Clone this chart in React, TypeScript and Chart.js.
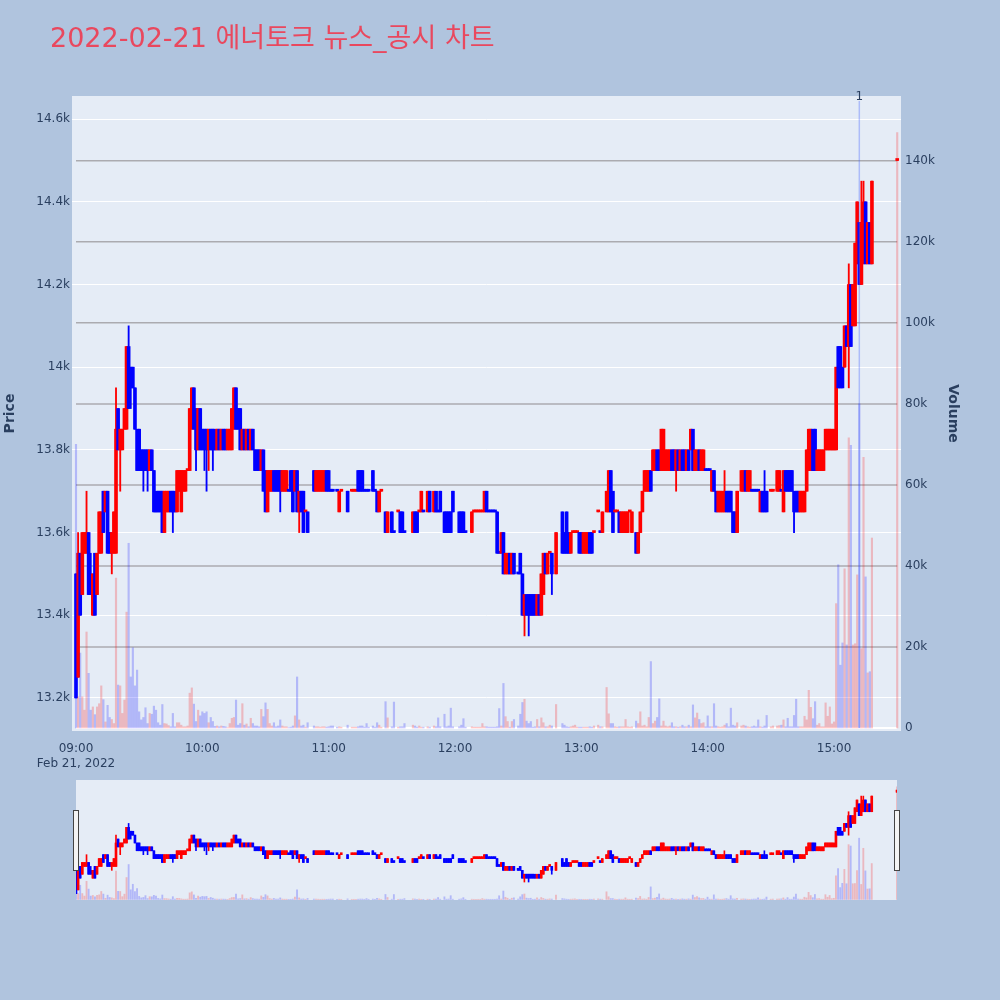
import React, { useEffect, useRef } from "react";
import { Chart, registerables } from "chart.js";

Chart.register(...registerables);

const TITLE = "2022-02-21 에너토크 뉴스_공시 차트";
const DATE_LABEL = "Feb 21, 2022";
const HOUR_LABELS = ["09:00", "10:00", "11:00", "12:00", "13:00", "14:00", "15:00"];
const HOUR_MINUTES = [0, 60, 120, 180, 240, 300, 360];
const PRICE_TICKS = [13200, 13400, 13600, 13800, 14000, 14200, 14400, 14600];
const VOLUME_TICKS = [0, 20000, 40000, 60000, 80000, 100000, 120000, 140000];
const NEWS_MINUTE = 372;
const NEWS_LABEL = "1";
const AUCTION_MINUTE = 390;
const AUCTION_PRICE = 14500;
const AUCTION_VOLUME = 147000;

// one entry per minute from 09:00 (index = minutes after 09:00); null = no trade
const OPEN = [
  13500,13250,13550,13450,13550,13550,13600,13500,13400,13550,
  13450,13550,13550,13700,13650,13700,13600,13550,13550,13550,
  13900,13800,13800,13850,13850,14050,14000,14000,13950,13850,
  13850,13800,13800,13800,13800,13750,13800,13750,13700,13700,
  13700,13700,13600,13650,13650,13700,13700,13700,13650,13700,
  13650,13700,13700,13750,13750,13850,13950,13900,13800,13900,
  13850,13850,13850,13800,13850,13850,13850,13800,13850,13800,
  13850,13850,13800,13800,13800,13850,13950,13900,13900,13800,
  13850,13800,13850,13800,13850,13800,13800,13800,13750,13800,
  13750,13650,13700,13700,13750,13750,13750,13750,13700,13700,
  13700,13700,13750,13750,13700,13750,13650,13700,13700,13650,
  13650,null,null,13750,13700,13700,13700,13700,13700,13750,
  13750,13700,13700,null,13700,13650,13700,null,null,13700,
  null,13700,13700,13700,13750,13750,13750,13700,13700,13700,
  null,13750,13700,13700,13650,13700,null,13650,13600,null,
  13650,13600,null,13650,13650,13650,13600,null,null,null,
  13600,13650,13650,13650,13650,13650,null,13650,13700,null,
  13650,13700,13650,13700,null,13650,13650,13650,13650,13700,
  null,null,13650,13650,13650,13600,null,null,13600,13650,
  13650,13650,13650,13650,13650,13700,13650,13650,13650,13650,
  13650,13550,13550,13600,13500,13500,13550,13500,13550,null,
  13500,13550,13500,13400,13450,13450,13450,13450,13450,13400,
  13450,13400,13450,13550,13500,13550,13550,null,13500,null,
  null,13650,13600,13650,13600,13550,13600,13600,13600,13600,
  13600,13550,13550,13550,13600,13600,13600,null,13650,13600,
  13600,null,13650,13650,13750,13700,13650,13650,13650,13600,
  13600,13600,13600,13650,13600,null,13600,13550,13600,13650,
  13700,13700,13700,13750,13750,13750,13800,13800,13750,13750,
  13750,13750,13750,13800,13800,13750,13800,13750,13800,13800,
  13750,13800,13800,13850,13750,13750,13800,13750,13750,13750,
  13750,13750,13700,13750,13700,13650,13650,13650,13650,13700,
  13700,13700,13650,13650,13600,null,13700,13700,13750,13700,
  13700,13700,13700,13700,13700,13650,13700,13700,13700,null,
  13700,13700,null,13700,13700,13700,13650,13750,13750,13750,
  13750,13700,13700,13700,13650,13650,13650,13700,13750,13750,
  13850,13850,13750,13750,13750,13750,13800,13800,13800,13800,
  13800,13800,14050,14050,14000,14000,14100,14050,14200,14100,
  14100,14250,14350,14200,14250,14400,14250,14350,14250,
];
const HIGH = [
  13500,13600,13550,13600,13600,13700,13600,13550,13500,13550,
  13550,13650,13650,13700,13700,13700,13600,13600,13650,13950,
  13900,13850,13850,13900,14050,14100,14000,14000,13950,13850,
  13850,13800,13800,13800,13800,13800,13800,13750,13700,13700,
  13700,13700,13700,13700,13700,13700,13700,13700,13750,13750,
  13750,13750,13750,13750,13900,13950,13950,13900,13900,13900,
  13850,13850,13850,13850,13850,13850,13850,13850,13850,13850,
  13850,13850,13850,13850,13900,13950,13950,13900,13900,13850,
  13850,13850,13850,13850,13850,13800,13800,13800,13800,13800,
  13750,13750,13750,13750,13750,13750,13750,13750,13750,13750,
  13750,13700,13750,13750,13750,13750,13700,13700,13700,13650,
  13650,null,null,13750,13750,13750,13750,13750,13750,13750,
  13750,13700,13700,null,13700,13700,13700,null,null,13700,
  null,13700,13700,13700,13750,13750,13750,13700,13700,13700,
  null,13750,13700,13700,13700,13700,null,13650,13650,null,
  13650,13600,null,13650,13650,13650,13600,null,null,null,
  13650,13650,13650,13650,13700,13650,null,13700,13700,null,
  13700,13700,13650,13700,null,13650,13650,13650,13650,13700,
  null,null,13650,13650,13650,13600,null,null,13650,13650,
  13650,13650,13650,13650,13700,13700,13650,13650,13650,13650,
  13650,13550,13600,13600,13550,13550,13550,13550,13550,null,
  13500,13550,13500,13450,13450,13450,13450,13450,13450,13450,
  13450,13500,13550,13550,13550,13550,13550,null,13600,null,
  null,13650,13600,13650,13600,13600,13600,13600,13600,13600,
  13600,13600,13600,13600,13600,13600,13600,null,13650,13600,
  13650,null,13700,13750,13750,13700,13650,13650,13650,13650,
  13650,13650,13650,13650,13650,null,13600,13600,13650,13700,
  13750,13750,13750,13750,13800,13800,13800,13800,13850,13850,
  13800,13800,13800,13800,13800,13800,13800,13800,13800,13800,
  13800,13800,13850,13850,13800,13800,13800,13800,13800,13750,
  13750,13750,13750,13750,13700,13700,13700,13700,13750,13700,
  13700,13700,13650,13650,13700,null,13750,13750,13750,13750,
  13750,13700,13700,13700,13700,13700,13700,13750,13700,null,
  13700,13700,null,13750,13750,13700,13750,13750,13750,13750,
  13750,13700,13700,13700,13700,13700,13700,13800,13850,13850,
  13850,13850,13800,13800,13800,13800,13850,13850,13850,13850,
  13850,14000,14050,14050,14000,14100,14100,14250,14200,14200,
  14300,14400,14350,14450,14450,14400,14350,14350,14450,
];
const LOW = [
  13200,13250,13400,13450,13550,13550,13450,13450,13400,13400,
  13450,13550,13550,13600,13650,13550,13550,13500,13550,13550,
  13800,13700,13800,13850,13850,13900,13900,13950,13850,13750,
  13750,13750,13700,13750,13700,13750,13750,13650,13650,13650,
  13650,13600,13600,13650,13650,13650,13600,13650,13650,13700,
  13650,13700,13700,13750,13750,13850,13850,13750,13800,13800,
  13800,13750,13700,13750,13800,13750,13800,13800,13800,13800,
  13800,13800,13800,13800,13800,13850,13850,13850,13800,13800,
  13800,13800,13800,13800,13800,13750,13750,13750,13750,13700,
  13650,13650,13700,13700,13700,13700,13700,13650,13700,13700,
  13700,13700,13700,13650,13700,13650,13600,13650,13600,13650,
  13600,null,null,13700,13700,13700,13700,13700,13700,13700,
  13700,13700,13700,null,13700,13650,13700,null,null,13650,
  null,13700,13700,13700,13700,13700,13700,13700,13700,13700,
  null,13700,13700,13650,13650,13700,null,13600,13600,null,
  13600,13600,null,13650,13600,13600,13600,null,null,null,
  13600,13600,13600,13650,13650,13650,null,13650,13650,null,
  13650,13650,13650,13650,null,13600,13600,13600,13600,13650,
  null,null,13600,13600,13600,13600,null,null,13600,13650,
  13650,13650,13650,13650,13650,13650,13650,13650,13650,13650,
  13550,13550,13550,13500,13500,13500,13500,13500,13500,null,
  13500,13500,13400,13350,13400,13350,13400,13400,13400,13400,
  13400,13400,13450,13500,13500,13550,13450,null,13500,null,
  null,13550,13550,13550,13550,13550,13600,13600,13600,13550,
  13550,13550,13550,13550,13550,13550,13600,null,13650,13600,
  13600,null,13650,13650,13650,13600,13650,13650,13600,13600,
  13600,13600,13600,13650,13600,null,13550,13550,13600,13650,
  13700,13700,13700,13700,13750,13750,13750,13750,13750,13750,
  13750,13750,13750,13750,13750,13700,13750,13750,13750,13750,
  13750,13750,13800,13750,13750,13750,13750,13750,13750,13750,
  13750,13750,13700,13700,13650,13650,13650,13650,13650,13650,
  13650,13650,13600,13600,13600,null,13700,13700,13700,13700,
  13700,13700,13700,13700,13700,13650,13650,13650,13650,null,
  13700,13700,null,13700,13700,13700,13650,13700,13700,13700,
  13700,13600,13650,13650,13650,13650,13650,13700,13750,13750,
  13750,13750,13750,13750,13750,13750,13800,13800,13800,13800,
  13800,13800,13950,13950,13950,14000,14050,13950,14050,14100,
  14100,14250,14200,14200,14250,14250,14250,14250,14250,
];
const CLOSE = [
  13200,13550,13400,13600,13600,13600,13450,13450,13500,13400,
  13550,13650,13650,13600,13700,13550,13550,13600,13650,13850,
  13800,13850,13850,13900,14050,13900,13950,13950,13850,13750,
  13750,13750,13750,13750,13750,13800,13750,13650,13650,13650,
  13650,13600,13700,13700,13700,13650,13650,13650,13750,13750,
  13750,13750,13750,13750,13900,13950,13850,13800,13900,13800,
  13800,13800,13800,13850,13800,13800,13800,13850,13800,13850,
  13800,13800,13850,13850,13900,13950,13850,13850,13800,13850,
  13800,13850,13800,13850,13800,13750,13750,13750,13800,13700,
  13650,13750,13750,13750,13700,13700,13700,13700,13750,13750,
  13750,13700,13700,13650,13750,13650,13700,13650,13600,13650,
  13600,null,null,13700,13750,13750,13750,13750,13750,13700,
  13700,13700,13700,null,13700,13700,13700,null,null,13650,
  null,13700,13700,13700,13700,13700,13700,13700,13700,13700,
  null,13700,13700,13650,13700,13700,null,13600,13650,null,
  13600,13600,null,13650,13600,13600,13600,null,null,null,
  13650,13600,13600,13650,13700,13650,null,13700,13650,null,
  13700,13650,13650,13650,null,13600,13600,13600,13600,13650,
  null,null,13600,13600,13600,13600,null,null,13650,13650,
  13650,13650,13650,13650,13700,13650,13650,13650,13650,13650,
  13550,13550,13600,13500,13550,13550,13500,13550,13500,null,
  13500,13500,13400,13450,13400,13400,13400,13400,13400,13450,
  13400,13500,13550,13500,13550,13550,13500,null,13600,null,
  null,13550,13550,13550,13550,13600,13600,13600,13600,13550,
  13550,13600,13600,13600,13550,13550,13600,null,13650,13600,
  13650,null,13700,13750,13650,13600,13650,13650,13600,13650,
  13650,13650,13650,13650,13650,null,13550,13600,13650,13700,
  13750,13750,13750,13700,13800,13800,13750,13750,13850,13850,
  13800,13800,13800,13750,13750,13800,13750,13800,13750,13750,
  13800,13750,13850,13750,13800,13800,13750,13800,13800,13750,
  13750,13750,13750,13700,13650,13700,13700,13700,13700,13650,
  13650,13650,13600,13600,13700,null,13750,13750,13700,13750,
  13750,13700,13700,13700,13700,13700,13650,13650,13650,null,
  13700,13700,null,13750,13750,13700,13750,13700,13700,13700,
  13700,13650,13650,13650,13700,13700,13700,13800,13850,13850,
  13750,13750,13800,13800,13800,13800,13850,13850,13850,13850,
  13850,14000,13950,13950,13950,14100,14050,14200,14050,14200,
  14300,14400,14200,14350,14400,14250,14350,14250,14450,
];
const VOLUME = [
  70000,7700,18500,7700,4400,23700,13500,4400,5200,3300,
  5200,6000,10400,7000,1500,5600,2600,2100,1100,37000,
  10600,10400,3600,6900,28600,45600,12600,19800,10400,14300,
  4000,2000,2600,5000,1100,3600,3400,5400,4400,1300,
  700,5800,1100,1000,600,300,3600,300,1300,1300,
  700,300,300,500,8600,9900,5900,1600,4400,3000,
  4000,3600,4000,1300,2600,1600,400,500,300,500,
  400,300,100,1100,2400,2600,6900,700,1100,6000,
  700,1000,300,2400,1100,500,500,300,4600,2800,
  6200,4600,1100,500,1300,300,500,2000,500,300,
  300,100,200,500,3000,12600,2000,500,700,200,
  1300,null,null,500,300,300,200,300,300,200,
  300,500,500,null,200,300,200,null,null,700,
  null,200,200,200,300,500,500,200,1100,200,
  null,500,200,1300,700,200,null,6500,2500,null,
  300,6400,null,200,300,300,1100,null,null,null,
  700,500,200,500,200,200,null,300,200,null,
  500,300,2500,300,null,3400,300,500,4900,300,
  null,null,300,700,2300,200,null,null,300,200,
  200,200,200,1100,300,300,200,200,200,200,
  300,4800,500,11000,2800,1600,200,1600,2100,null,
  500,3400,6300,7100,1700,1100,1600,200,300,2100,
  300,2500,1300,300,300,700,500,null,5800,null,
  null,1100,700,300,200,300,500,700,200,200,
  200,200,200,200,300,200,500,null,700,300,
  300,null,10000,3500,1100,1100,300,200,300,300,
  300,2100,300,200,300,null,1700,1100,4000,500,
  700,300,2600,16400,1100,1700,2600,7200,500,1700,
  500,300,500,1300,300,300,200,300,700,300,
  300,700,300,5700,2500,3700,2100,1100,1300,300,
  3000,300,300,6000,500,300,200,300,700,1100,
  300,4900,700,500,1300,null,500,700,500,300,
  200,300,500,300,2000,300,200,500,3100,null,
  300,500,null,500,600,700,2000,300,2400,300,
  300,3100,7100,300,300,300,2900,2000,9300,5100,
  2300,6500,700,1100,300,300,6200,2900,5200,1000,
  1500,30700,40300,15500,21000,39300,20500,71600,69800,20500,
  20800,37800,80000,19600,66800,37300,13600,13900,46900,
];

const X_MIN = -1.9;
const X_MAX = 391.8;
const PRICE_MIN = 13120;
const PRICE_MAX = 14656;
const VOL_MIN = -740;
const VOL_MAX = 156000;

const PAGE_BG = "#B0C4DE";
const PLOT_BG = "#E5ECF6";
const FONT = '"DejaVu Sans", "Noto Sans CJK KR", sans-serif';
const TEXT_COLOR = "#2a3f5f";
const TITLE_COLOR = "#E9485E";
const UP = "#FF0000";
const DOWN = "#0000FF";
const UP_VOL = "rgba(255,0,0,0.22)";
const DOWN_VOL = "rgba(0,0,255,0.22)";
const VOL_GRID = "#ABABB0";

type Candle = { m: number; o: number; h: number; l: number; c: number; v: number; up: boolean };

function buildCandles(): Candle[] {
  const out: Candle[] = [];
  let prevClose: number | null = null;
  let prevUp = true;
  const push = (m: number, o: number, h: number, l: number, c: number, v: number) => {
    let up: boolean;
    if (c > o) up = true;
    else if (c < o) up = false;
    else if (prevClose !== null && c !== prevClose) up = c > prevClose;
    else up = prevUp;
    out.push({ m, o, h, l, c, v, up });
    prevClose = c;
    prevUp = up;
  };
  for (let i = 0; i < OPEN.length; i++) {
    const o = OPEN[i];
    if (o == null) continue;
    push(i, o, HIGH[i] as number, LOW[i] as number, CLOSE[i] as number, (VOLUME[i] as number) ?? 0);
  }
  push(AUCTION_MINUTE, AUCTION_PRICE, AUCTION_PRICE, AUCTION_PRICE, AUCTION_PRICE, AUCTION_VOLUME);
  return out;
}

function makeDatasets(cs: Candle[], body: number, wick: number, vol: number) {
  const colors = cs.map((k) => (k.up ? UP : DOWN));
  return [
    {
      type: "bar",
      data: cs.map((k) => ({ x: k.m, y: k.v })),
      yAxisID: "y2",
      backgroundColor: cs.map((k) => (k.up ? UP_VOL : DOWN_VOL)),
      barThickness: vol,
      grouped: false,
      order: 0,
    },
    {
      type: "bar",
      data: cs.map((k) => ({ x: k.m, y: [Math.min(k.o, k.c), Math.max(k.o, k.c)] })),
      yAxisID: "y",
      backgroundColor: colors,
      barThickness: body,
      minBarLength: 2,
      grouped: false,
      order: 1,
    },
    {
      type: "bar",
      data: cs.map((k) => ({ x: k.m, y: [k.l, k.h] })),
      yAxisID: "y",
      backgroundColor: colors,
      barThickness: wick,
      minBarLength: 1,
      grouped: false,
      order: 2,
    },
  ];
}

export default function App() {
  const mainRef = useRef<HTMLCanvasElement | null>(null);
  const sliderRef = useRef<HTMLCanvasElement | null>(null);

  useEffect(() => {
    const candles = buildCandles();
    Chart.defaults.font.family = FONT;

    const mainDecor = {
      id: "mainDecor",
      beforeDraw(chart: any) {
        const { ctx, chartArea: a } = chart;
        ctx.save();
        ctx.fillStyle = PLOT_BG;
        ctx.fillRect(a.left, a.top, a.right - a.left, a.bottom - a.top);
        ctx.restore();
      },
      beforeDatasetsDraw(chart: any) {
        const { ctx } = chart;
        const xs = chart.scales.x;
        const y2 = chart.scales.y2;
        const x0 = xs.getPixelForValue(0);
        const x1 = xs.getPixelForValue(AUCTION_MINUTE);
        ctx.save();
        VOLUME_TICKS.forEach((v) => {
          const yy = y2.getPixelForValue(v);
          ctx.beginPath();
          ctx.strokeStyle = v === 0 ? "#FFFFFF" : VOL_GRID;
          ctx.lineWidth = v === 0 ? 2 : 1.5;
          ctx.moveTo(x0, yy);
          ctx.lineTo(x1, yy);
          ctx.stroke();
        });
        ctx.restore();
      },
      afterDatasetsDraw(chart: any) {
        const { ctx, chartArea: a } = chart;
        const nx = chart.scales.x.getPixelForValue(NEWS_MINUTE);
        ctx.save();
        ctx.strokeStyle = "rgba(70,100,255,0.35)";
        ctx.lineWidth = 1.5;
        ctx.beginPath();
        ctx.moveTo(nx, a.top + 5);
        ctx.lineTo(nx, chart.scales.y2.getPixelForValue(0));
        ctx.stroke();
        ctx.fillStyle = TEXT_COLOR;
        ctx.font = `12px ${FONT}`;
        ctx.textAlign = "center";
        ctx.textBaseline = "middle";
        ctx.fillText(NEWS_LABEL, nx, a.top + 1);
        ctx.restore();
      },
      afterDraw(chart: any) {
        const { ctx } = chart;
        ctx.save();
        ctx.fillStyle = TITLE_COLOR;
        ctx.font = `27px ${FONT}`;
        ctx.textAlign = "left";
        ctx.textBaseline = "middle";
        ctx.fillText(TITLE, 50, 40);
        ctx.restore();
      },
    };

    const main = new Chart(mainRef.current as HTMLCanvasElement, {
      type: "bar",
      data: { datasets: makeDatasets(candles, 3, 1.2, 1.5) as any },
      options: {
        responsive: false,
        animation: false,
        events: [],
        layout: { padding: { left: 0, right: 37, top: 96, bottom: 0 } },
        plugins: { legend: { display: false }, tooltip: { enabled: false }, title: { display: false } },
        scales: {
          x: {
            type: "linear",
            offset: false,
            min: X_MIN,
            max: X_MAX,
            grid: { display: false, offset: false },
            border: { display: false },
            afterBuildTicks: (s: any) => {
              s.ticks = HOUR_MINUTES.map((v) => ({ value: v }));
            },
            afterFit: (s: any) => {
              s.height = 39;
            },
            ticks: {
              autoSkip: false,
              maxRotation: 0,
              padding: 3,
              color: TEXT_COLOR,
              font: { size: 12, family: FONT },
              callback: (v: any) => {
                const idx = HOUR_MINUTES.indexOf(Number(v));
                if (idx === 0) return [HOUR_LABELS[0], DATE_LABEL];
                return idx >= 0 ? HOUR_LABELS[idx] : "";
              },
            },
          },
          y: {
            type: "linear",
            position: "left",
            min: PRICE_MIN,
            max: PRICE_MAX,
            afterBuildTicks: (s: any) => {
              s.ticks = PRICE_TICKS.map((v) => ({ value: v }));
            },
            afterFit: (s: any) => {
              s.width = 72;
            },
            grid: { color: "#FFFFFF", lineWidth: 1, drawTicks: false },
            border: { display: false },
            ticks: {
              padding: 2,
              color: TEXT_COLOR,
              font: { size: 12, family: FONT },
              callback: (v: any) => `${Number(v) / 1000}k`,
            },
            title: {
              display: true,
              text: "Price",
              color: TEXT_COLOR,
              font: { size: 14, weight: "bold", family: FONT },
              padding: { top: 2, bottom: 0 },
            },
          },
          y2: {
            type: "linear",
            position: "right",
            min: VOL_MIN,
            max: VOL_MAX,
            afterBuildTicks: (s: any) => {
              s.ticks = VOLUME_TICKS.map((v) => ({ value: v }));
            },
            afterFit: (s: any) => {
              s.width = 62;
            },
            grid: { display: false, drawTicks: false },
            border: { display: false },
            ticks: {
              padding: 4,
              color: TEXT_COLOR,
              font: { size: 12, family: FONT },
              callback: (v: any) => (Number(v) === 0 ? "0" : `${Number(v) / 1000}k`),
            },
            title: {
              display: true,
              text: "Volume",
              color: TEXT_COLOR,
              font: { size: 14, weight: "bold", family: FONT },
              padding: { top: 2, bottom: 0 },
            },
          },
        },
      } as any,
      plugins: [mainDecor as any],
    });

    const sliderDecor = {
      id: "sliderDecor",
      beforeDraw(chart: any) {
        const { ctx, chartArea: a } = chart;
        ctx.save();
        ctx.fillStyle = PLOT_BG;
        ctx.fillRect(a.left, a.top, a.right - a.left, a.bottom - a.top);
        ctx.restore();
      },
      afterDraw(chart: any) {
        const { ctx, chartArea: a } = chart;
        ctx.save();
        ctx.fillStyle = "#F4F4F4";
        ctx.strokeStyle = "#444444";
        ctx.lineWidth = 1;
        [a.left, a.right].forEach((edge: number) => {
          const hx = Math.round(edge) - 2.5;
          ctx.fillRect(hx, a.top + 30.5, 5, 60);
          ctx.strokeRect(hx, a.top + 30.5, 5, 60);
        });
        ctx.restore();
      },
    };

    const slider = new Chart(sliderRef.current as HTMLCanvasElement, {
      type: "bar",
      data: { datasets: makeDatasets(candles, 2, 1, 1.2) as any },
      options: {
        responsive: false,
        animation: false,
        events: [],
        layout: { padding: { left: 76, right: 103, top: 10, bottom: 10 } },
        plugins: { legend: { display: false }, tooltip: { enabled: false } },
        scales: {
          x: { type: "linear", display: false, offset: false, min: 0, max: AUCTION_MINUTE },
          y: { type: "linear", display: false, min: PRICE_MIN, max: PRICE_MAX },
          y2: { type: "linear", display: false, min: VOL_MIN, max: VOL_MAX },
        },
      } as any,
      plugins: [sliderDecor as any],
    });

    return () => {
      main.destroy();
      slider.destroy();
    };
  }, []);

  return (
    <div
      style={{
        position: "absolute",
        left: 0,
        top: 0,
        width: 1000,
        height: 1000,
        background: PAGE_BG,
        overflow: "hidden",
      }}
    >
      <canvas
        ref={mainRef}
        width={1000}
        height={770}
        style={{ position: "absolute", left: 0, top: 0, width: 1000, height: 770 }}
      />
      <canvas
        ref={sliderRef}
        width={1000}
        height={140}
        style={{ position: "absolute", left: 0, top: 770, width: 1000, height: 140 }}
      />
    </div>
  );
}
